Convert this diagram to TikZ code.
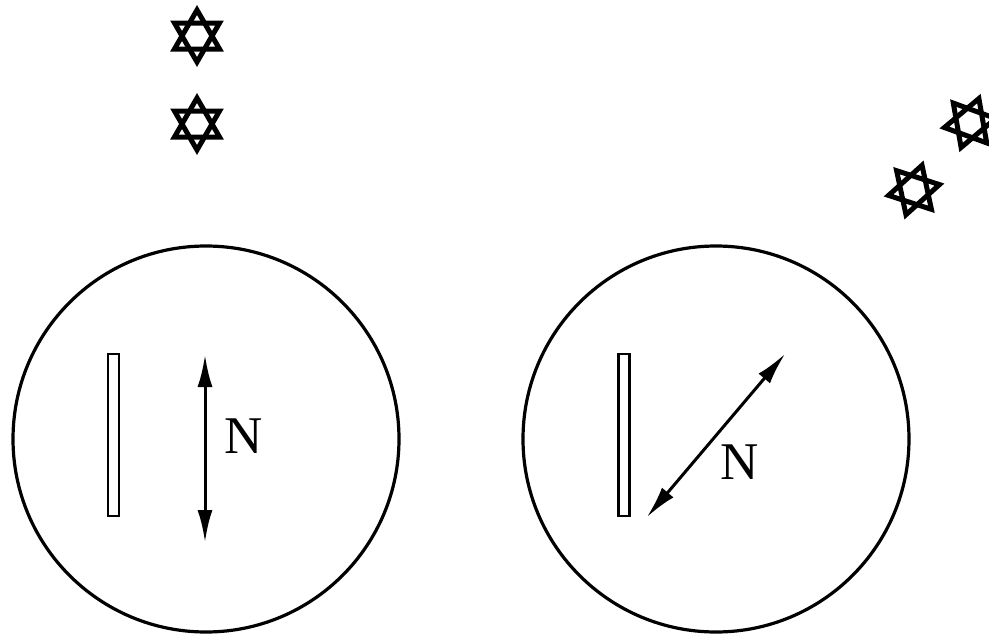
\documentclass[tikz,border=0pt]{standalone}
\usepackage{fontspec}
\setmainfont{Liberation Serif}
\usetikzlibrary{arrows.meta}
\begin{document}
\begin{tikzpicture}[x=1pt,y=-1pt,
  lens/.style={draw=black,line width=3.2pt,circle,minimum size=386pt,inner sep=0pt},
  plate/.style={draw=black,line width=2.8pt,rectangle,minimum width=11pt,minimum height=162pt,inner sep=0pt},
  dir/.style={line width=3pt,{Latex[length=32pt,width=15pt]}-{Latex[length=32pt,width=15pt]}},
  lbl/.style={font=\fontsize{53}{53}\selectfont,inner sep=0pt,anchor=center},
  starpic/.pic={
    \draw[line width=5pt,miter limit=10] (90:26) -- (210:26) -- (330:26) -- cycle;
    \draw[line width=5pt,miter limit=10] (270:26) -- (30:26) -- (150:26) -- cycle;
  }]
\useasboundingbox (0,0) rectangle (989,637);
% left
\node[lens] (c1) at (206,439) {};
\node[plate] (p1) at (113.5,435) {};
\coordinate (a1s) at (205,355);
\coordinate (a1e) at (205,542);
\draw[dir] (a1s) -- (a1e);
\node[lbl] (n1) at (244,436) {N};
% right
\node[lens] (c2) at (716,439) {};
\node[plate] (p2) at (624,435) {};
\coordinate (a2s) at (785,354);
\coordinate (a2e) at (647,517);
\draw[dir] (a2s) -- (a2e);
\node[lbl] (n2) at (740,462) {N};
% stars
\pic[yscale=-1] at (197,36) {starpic};
\pic[yscale=-1] at (197,124) {starpic};
\pic[yscale=-1,rotate=18] at (914,190) {starpic};
\pic[yscale=-1,rotate=20] at (970,123) {starpic};
\end{tikzpicture}
\end{document}
